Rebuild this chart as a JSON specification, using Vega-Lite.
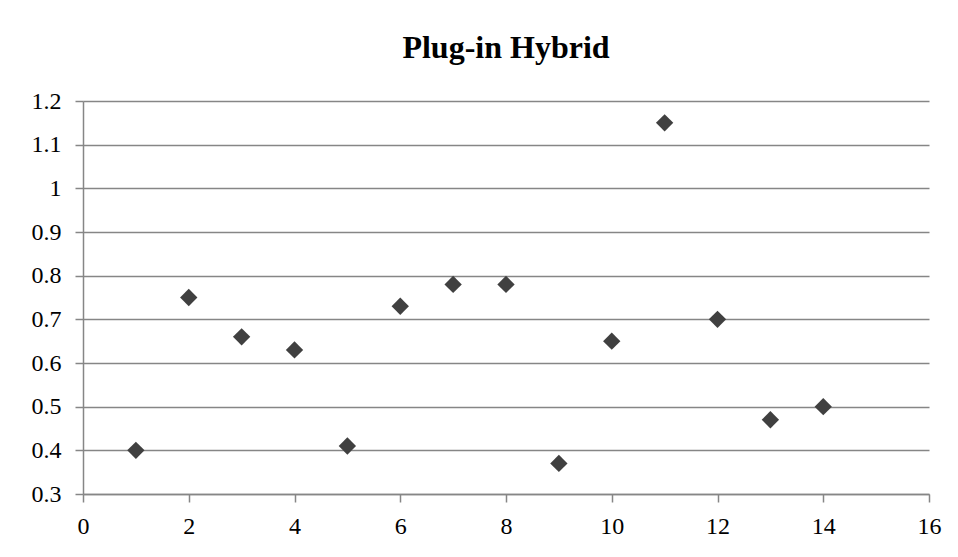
{
  "$schema": "https://vega.github.io/schema/vega-lite/v6.json",
  "width": 846,
  "height": 393,
  "autosize": {"type": "none"},
  "padding": {"left": 83, "top": 101, "right": 29, "bottom": 63},
  "background": "white",
  "title": {
    "text": "Plug-in Hybrid",
    "font": "Liberation Serif",
    "fontSize": 32,
    "fontWeight": "bold",
    "color": "#000000",
    "anchor": "middle",
    "offset": 24
  },
  "config": {
    "view": {"stroke": null},
    "axis": {
      "labelFont": "Liberation Serif",
      "labelFontSize": 24,
      "labelColor": "#000000",
      "domainColor": "#868686",
      "tickColor": "#868686",
      "gridColor": "#868686",
      "domainWidth": 1.5,
      "tickWidth": 1.5,
      "gridWidth": 1.5,
      "tickSize": 8
    }
  },
  "data": {
    "values": [
      {"x": 1, "y": 0.40},
      {"x": 2, "y": 0.75},
      {"x": 3, "y": 0.66},
      {"x": 4, "y": 0.63},
      {"x": 5, "y": 0.41},
      {"x": 6, "y": 0.73},
      {"x": 7, "y": 0.78},
      {"x": 8, "y": 0.78},
      {"x": 9, "y": 0.37},
      {"x": 10, "y": 0.65},
      {"x": 11, "y": 1.15},
      {"x": 12, "y": 0.70},
      {"x": 13, "y": 0.47},
      {"x": 14, "y": 0.50}
    ]
  },
  "mark": {"type": "point", "shape": "diamond", "filled": true, "color": "#404040", "opacity": 1, "size": 300},
  "encoding": {
    "x": {
      "field": "x",
      "type": "quantitative",
      "scale": {"domain": [0, 16], "nice": false, "zero": false},
      "axis": {"title": null, "values": [0, 2, 4, 6, 8, 10, 12, 14, 16], "grid": false, "labelPadding": 12, "labelFlush": false}
    },
    "y": {
      "field": "y",
      "type": "quantitative",
      "scale": {"domain": [0.3, 1.2], "nice": false, "zero": false},
      "axis": {
        "title": null,
        "values": [0.3, 0.4, 0.5, 0.6, 0.7, 0.8, 0.9, 1.0, 1.1, 1.2],
        "labelExpr": "datum.value == 1 ? '1' : format(datum.value, '.1f')",
        "grid": true,
        "labelPadding": 14,
        "labelFlush": false
      }
    }
  }
}
